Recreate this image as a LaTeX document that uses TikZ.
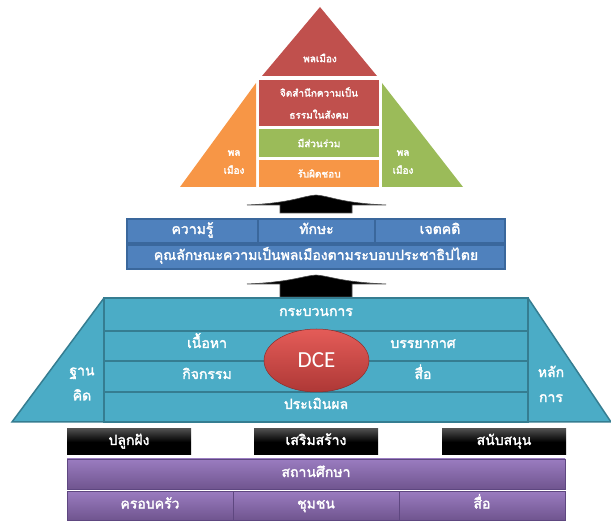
\documentclass[tikz,border=0pt]{standalone}
\usepackage{fontspec}
\newfontfamily\thai[Script=Thai,BoldFont=Loma,BoldFeatures={FakeBold=2.2}]{Loma}
\setsansfont{Carlito}
\usetikzlibrary{shapes.geometric}
\definecolor{pred}{HTML}{C0504D}
\definecolor{pgreen}{HTML}{9BBB59}
\definecolor{porange}{HTML}{F79646}
\definecolor{pblue}{HTML}{4F81BD}
\definecolor{pblueb}{HTML}{3A679C}
\definecolor{pteal}{HTML}{4BACC6}
\definecolor{ptealb}{HTML}{357D91}
\definecolor{ppurtop}{HTML}{9A7CC0}
\definecolor{ppurbot}{HTML}{70558F}
\definecolor{ppurb}{HTML}{5E4780}
\definecolor{dcetop}{HTML}{E45C58}
\definecolor{dcebot}{HTML}{AE3836}
\begin{document}
\begin{tikzpicture}[x=1pt,y=-1pt,
  txt/.style={text=white,font=\thai\bfseries\fontsize{14}{15}\selectfont,align=center,inner sep=0pt},
  txtS/.style={text=white,font=\thai\bfseries\fontsize{10}{12}\selectfont,align=center,inner sep=0pt},
  fixed/.style={text height=9pt,text depth=3pt},
  pbox/.style={txtS,minimum width=120pt},
  bandcell/.style={txt,fixed,fill=pblue,draw=pblueb,line width=1.2pt,minimum height=24pt},
  tealcell/.style={txt,fill=pteal,draw=ptealb,line width=1.5pt,minimum width=424pt},
  blkbox/.style={txt,fixed,top color=black!70,bottom color=black,middle color=black,minimum width=124pt,minimum height=26pt},
  purcell/.style={txt,fixed,top color=ppurtop,bottom color=ppurbot,draw=ppurb,line width=0.8pt},
  uparrow/.style={fill=black,draw=black!70,line width=0.6pt}
]
\useasboundingbox (0,0) rectangle (611,521);

% ---- top pyramid ----
\fill[pred] (320,7) -- (377,76) -- (262,76) -- cycle;
\node[txtS] (pyTop) at (320,58) {พลเมือง};
\fill[porange] (256,83) -- (256,187) -- (180,187) -- cycle;
\node[txtS,font=\thai\bfseries\fontsize{10}{18}\selectfont] (pyLeft) at (234,162) {พล\\เมือง};
\fill[pgreen] (382,83) -- (382,187) -- (463,187) -- cycle;
\node[txtS,font=\thai\bfseries\fontsize{10}{18}\selectfont] (pyRight) at (403,162) {พล\\เมือง};
\node[pbox,fill=pred,minimum height=46pt,font=\thai\bfseries\fontsize{10}{22}\selectfont] (pyA) at (319,103) {จิตสำนึกความเป็น\\ธรรมในสังคม};
\node[pbox,fill=pgreen,minimum height=28pt] (pyB) at (319,143) {มีส่วนร่วม};
\node[pbox,fill=porange,minimum height=27pt] (pyC) at (319,173.5) {รับผิดชอบ};

% ---- arrow 1 ----
\coordinate (a1) at (316,195);
\path[uparrow] (a1) .. controls (302,196) and (292,203) .. (247,205) -- (280,205) -- (280,213)
  -- (352,213) -- (352,205) -- (386,205) .. controls (340,203) and (330,196) .. (a1) -- cycle;

% ---- band ----
\node[bandcell,minimum width=131pt] (kn) at (192.5,231) {ความรู้};
\node[bandcell,minimum width=117pt] (sk) at (316.5,231) {ทักษะ};
\node[bandcell,minimum width=130pt] (at) at (440,231) {เจตคติ};
\node[bandcell,minimum width=378pt] (ch) at (316,257) {คุณลักษณะความเป็นพลเมืองตามระบอบประชาธิปไตย};

% ---- arrow 2 ----
\coordinate (a2) at (316,275);
\path[uparrow] (a2) .. controls (302,276) and (292,282) .. (247,284) -- (280,284) -- (280,297)
  -- (352,297) -- (352,284) -- (386,284) .. controls (340,282) and (330,276) .. (a2) -- cycle;

% ---- trapezoid ----
\filldraw[fill=pteal,draw=ptealb,line width=1.5pt] (104,298) -- (528,298) -- (611,422) -- (12,422) -- cycle;
\node[tealcell,minimum height=33pt] (r1) at (316,314.5) {};
\node[tealcell,minimum height=30pt] (r2) at (316,346) {};
\node[tealcell,minimum height=31pt] (r3) at (316,376.5) {};
\node[tealcell,minimum height=30pt] (r4) at (316,407) {};
\node[txt,fixed] (t1) at (316,313) {กระบวนการ};
\node[txt,fixed] (t2a) at (207,345) {เนื้อหา};
\node[txt,fixed] (t2b) at (423,345) {บรรยากาศ};
\node[txt,fixed] (t3a) at (207,376) {กิจกรรม};
\node[txt,fixed] (t3b) at (423,376) {สื่อ};
\node[txt,fixed] (t4) at (316,406) {ประเมินผล};
\node[txt,font=\thai\bfseries\fontsize{14}{25}\selectfont] (left) at (82,384) {ฐาน\\คิด};
\node[txt,font=\thai\bfseries\fontsize{14}{25}\selectfont] (right) at (551,384) {หลัก\\การ};
\node[ellipse,top color=dcetop,bottom color=dcebot,draw=dcebot!80!black,line width=0.5pt,
  minimum width=105pt,minimum height=63pt,inner sep=0pt,text=white,
  font=\sffamily\fontsize{23}{25}\selectfont] (dce) at (316.5,360.5) {DCE};

% ---- bottom ----
\node[blkbox] (b1) at (129,442) {ปลูกฝัง};
\node[blkbox] (b2) at (316,442) {เสริมสร้าง};
\node[blkbox] (b3) at (504,442) {สนับสนุน};
\node[purcell,minimum width=498pt,minimum height=30pt] (p0) at (316,474) {สถานศึกษา};
\node[purcell,minimum width=166pt,minimum height=29pt] (p1) at (150,505.5) {ครอบครัว};
\node[purcell,minimum width=166pt,minimum height=29pt] (p2) at (316,505.5) {ชุมชน};
\node[purcell,minimum width=166pt,minimum height=29pt] (p3) at (482,505.5) {สื่อ};
\end{tikzpicture}
\end{document}
